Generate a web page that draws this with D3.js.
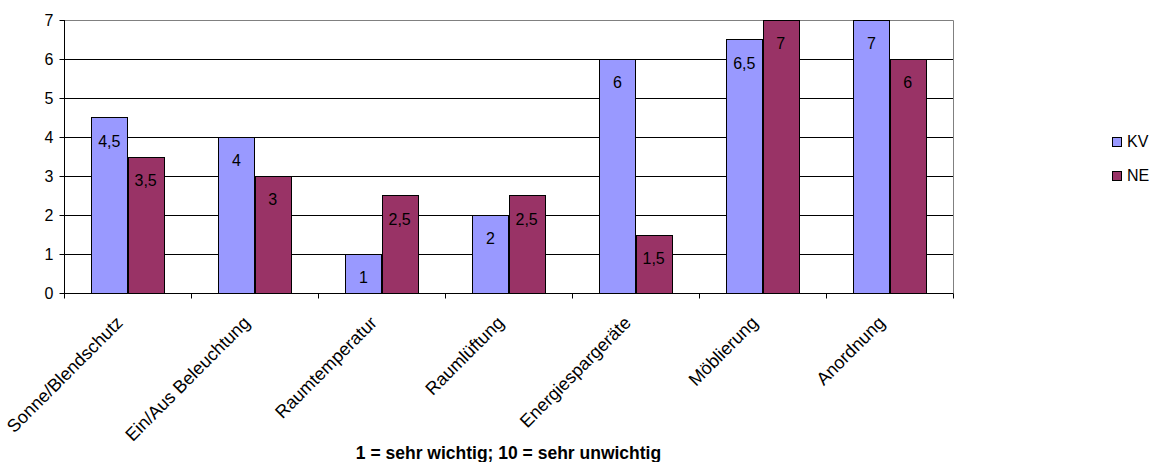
<!DOCTYPE html>
<html><head><meta charset="utf-8">
<script src="https://cdn.jsdelivr.net/npm/d3@7"></script>
<style>body{margin:0;background:#fff}text{font-family:"Liberation Sans",Arial,sans-serif}</style>
</head><body>
<svg id="c" width="1158" height="462"></svg>
<script>
const categories = ["Sonne/Blendschutz","Ein/Aus Beleuchtung","Raumtemperatur","Raumlüftung","Energiespargeräte","Möblierung","Anordnung"];
const seriesNames = ["KV","NE"];
const kvValues = [4.5,4,1,2,6,6.5,7];
const neValues = [3.5,3,2.5,2.5,1.5,7,6];
const yTicks = [0,1,2,3,4,5,6,7];
const xTitle = "1 = sehr wichtig; 10 = sehr unwichtig";
const colors = {KV:"#9999FF", NE:"#993366"};

const svg = d3.select("#c");
const L=64,R=953,T=20,B=293;
const x0 = d3.scaleBand().domain(categories).range([L,R]).paddingInner(0).paddingOuter(0);
const x1 = d3.scaleBand().domain(seriesNames).range([0,x0.bandwidth()]).paddingInner(0).paddingOuter(0.75);
const y = d3.scaleLinear().domain([0,7]).range([B,T]);

// gridlines
svg.append("g").selectAll("line").data(yTicks.filter(d=>d>0&&d<7)).join("line")
  .attr("x1",L).attr("x2",R).attr("y1",d=>Math.round(y(d))+0.5).attr("y2",d=>Math.round(y(d))+0.5)
  .attr("stroke","#000").attr("stroke-width",1);
// plot border top/right
svg.append("path").attr("d",`M${L},${T+0.5}H${R+0.5}V${B}`).attr("fill","none").attr("stroke","#808080");

const data = categories.map((c,i)=>({c, KV:kvValues[i], NE:neValues[i]}));
const g = svg.append("g").selectAll("g").data(data).join("g").attr("transform",d=>`translate(${x0(d.c)},0)`);
g.selectAll("rect").data(d=>seriesNames.map(s=>({s,v:d[s]}))).join("rect")
  .attr("x",d=>Math.round(x1(d.s))+0.5).attr("width",Math.round(x1.bandwidth()))
  .attr("y",d=>Math.round(y(d.v))+0.5).attr("height",d=>Math.round(y(0))-Math.round(y(d.v)))
  .attr("fill",d=>colors[d.s]).attr("stroke","#000").attr("stroke-width",1);
g.selectAll("text").data(d=>seriesNames.map(s=>({s,v:d[s]}))).join("text")
  .attr("x",d=>x1(d.s)+x1.bandwidth()/2).attr("y",d=>y(d.v)+29)
  .attr("text-anchor","middle").attr("font-size",16).attr("fill","#000")
  .text(d=>String(d.v).replace(".",","));

// y axis
const ya = svg.append("g").attr("transform",`translate(${L+0.5},0)`)
  .call(d3.axisLeft(y).tickValues(yTicks).tickSize(5).tickPadding(6).tickFormat(d=>d));
ya.select(".domain").attr("d",`M0,${T}V${B+0.5}`).attr("stroke","#000");
ya.selectAll("line").attr("stroke","#000");
ya.selectAll("text").attr("font-size",16).attr("font-family","Liberation Sans, Arial, sans-serif").attr("fill","#000");

// x axis
const xa = svg.append("g").attr("transform",`translate(0,${B+0.5})`);
xa.append("line").attr("x1",L).attr("x2",R+0.5).attr("stroke","#000");
xa.selectAll("line.t").data(categories.map(c=>x0(c)).concat([R])).join("line").attr("class","t")
  .attr("x1",d=>Math.round(d)+0.5).attr("x2",d=>Math.round(d)+0.5).attr("y1",0).attr("y2",5).attr("stroke","#000");
xa.selectAll("text").data(categories).join("text")
  .attr("transform",c=>`translate(${x0(c)+x0.bandwidth()/2-8},26) rotate(-45)`)
  .attr("text-anchor","end").attr("dy","0.35em").attr("font-size",18).attr("fill","#000").text(c=>c);

svg.append("text").attr("x",(L+R)/2).attr("y",459).attr("text-anchor","middle")
  .attr("font-size",17.5).attr("font-weight","bold").attr("fill","#000").text(xTitle);

// legend
const lg = svg.append("g").selectAll("g").data(seriesNames).join("g")
  .attr("transform",(d,i)=>`translate(1112,${141+i*34})`);
lg.append("rect").attr("x",0.5).attr("y",-3.5).attr("width",9).attr("height",9)
  .attr("fill",d=>colors[d]).attr("stroke","#000");
lg.append("text").attr("x",15).attr("y",0).attr("dy","0.35em").attr("font-size",16).attr("fill","#000").text(d=>d);
</script>
</body></html>
